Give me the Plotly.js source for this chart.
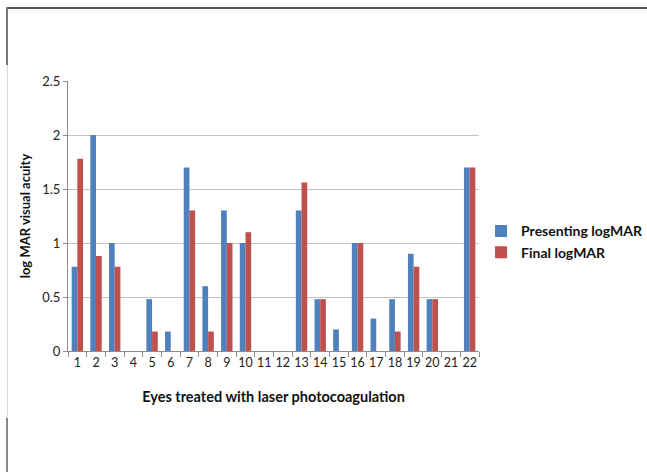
<!DOCTYPE html>
<html>
<head>
<meta charset="utf-8">
<script src="https://cdn.plot.ly/plotly-3.0.1.min.js"></script>
<style>
html,body{margin:0;padding:0;background:#fff;overflow:hidden;}
#wrap{position:relative;width:647px;height:472px;overflow:hidden;}
#chart{position:absolute;left:0;top:0;width:660px;height:472px;}
.ln{position:absolute;pointer-events:none;}
</style>
</head>
<body>
<div id="wrap">
<div id="chart"></div>
<div class="ln" style="left:7px;top:7px;width:640px;height:2px;background:#555;"></div>
<div class="ln" style="left:6px;top:7px;width:2px;height:58px;background:#777;"></div>
<div class="ln" style="left:7px;top:65px;width:1px;height:353px;background:#d8d8d8;"></div>
<div class="ln" style="left:6px;top:418px;width:2px;height:54px;background:#888;"></div>
</div>
<script>
const categories = ["1","2","3","4","5","6","7","8","9","10","11","12","13","14","15","16","17","18","19","20","21","22"];
const presentingLogMAR = [0.78,2.0,1.0,0,0.48,0.18,1.7,0.6,1.3,1.0,0,0,1.3,0.48,0.2,1.0,0.3,0.48,0.9,0.48,0,1.7];
const finalLogMAR = [1.78,0.88,0.78,0,0.18,0,1.3,0.18,1.0,1.1,0,0,1.56,0.48,0,1.0,0,0.18,0.78,0.48,0,1.7];
const yTickVals = [0,0.5,1,1.5,2,2.5];
const yTickText = ["0","0.5","1","1.5","2","2.5"];

const FONT = "Lato, 'Open Sans', sans-serif";

const traces = [
  {type:"bar", name:"Presenting logMAR", x:categories, y:presentingLogMAR,
   marker:{color:"#4F81BD"}},
  {type:"bar", name:"Final logMAR", x:categories, y:finalLogMAR,
   marker:{color:"#C0504D"}}
];

const layout = {
  width:660, height:472,
  margin:{l:68, r:181, t:81, b:121, pad:0},
  paper_bgcolor:"rgba(0,0,0,0)", plot_bgcolor:"#fff",
  font:{family:FONT, size:13, color:"#222"},
  barmode:"group", bargap:0.39, bargroupgap:0,
  showlegend:true,
  legend:{x:1.005, xanchor:"left", y:0.404, yanchor:"middle",
    font:{family:FONT, size:14, color:"#111", weight:"bold"},
    tracegroupgap:0},
  xaxis:{type:"category", categoryorder:"array", categoryarray:categories,
    showline:true, linecolor:"#8c8c8c", linewidth:1,
    ticks:"outside", tickson:"boundaries", ticklen:5, tickcolor:"#8c8c8c",
    showgrid:false, zeroline:false, tickangle:0,
    tickfont:{family:FONT, size:12.5, color:"#222"},
    title:{text:"Eyes treated with laser photocoagulation", standoff:22,
      font:{family:FONT, size:14.5, color:"#111", weight:"bold"}}},
  yaxis:{range:[0,2.5001], tickvals:yTickVals, ticktext:yTickText,
    showline:true, linecolor:"#8c8c8c", linewidth:1,
    ticks:"outside", ticklen:4, tickcolor:"#8c8c8c",
    showgrid:true, gridcolor:"#c4c4c4", gridwidth:1, zeroline:false,
    tickfont:{family:FONT, size:13, color:"#222"},
    title:{text:"log MAR visual acuity", standoff:8,
      font:{family:FONT, size:13, color:"#111", weight:"bold"}}}
};

Plotly.newPlot("chart", traces, layout, {displayModeBar:false, staticPlot:true});
</script>
</body>
</html>
